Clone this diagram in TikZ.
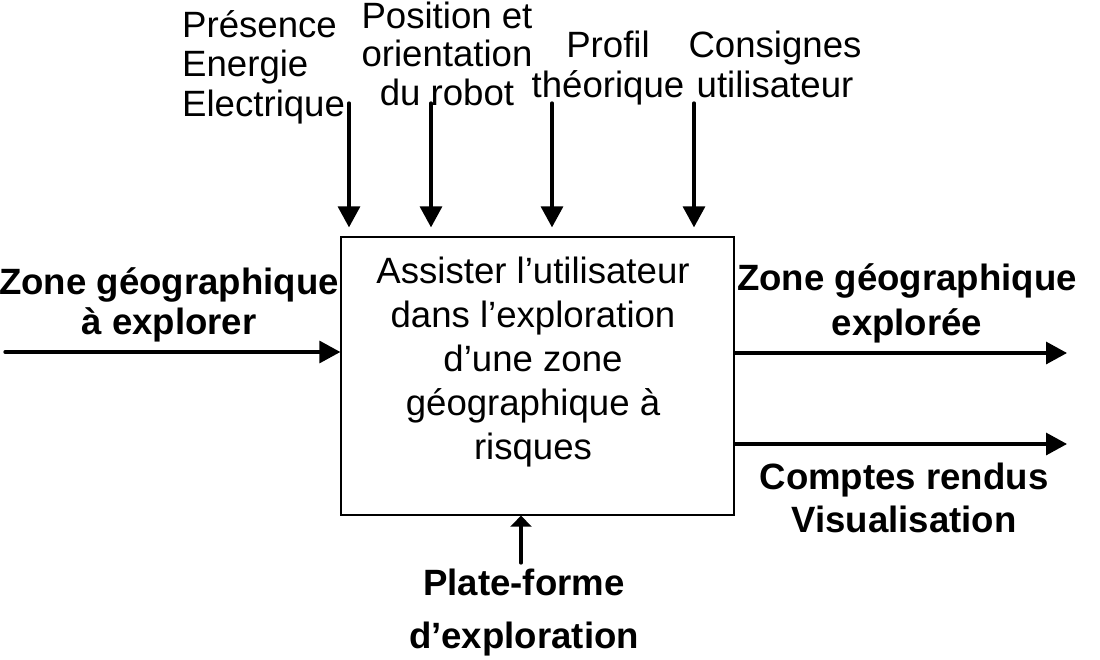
\documentclass[tikz,border=0pt]{standalone}
\usepackage{fontspec}
\setmainfont{Liberation Sans}
\usetikzlibrary{arrows.meta}
\newcommand{\txtblock}[3]{\fontsize{36.6}{#2}\selectfont\begin{tabular}[t]{@{}#1@{}}#3\end{tabular}}
\begin{document}
\begin{tikzpicture}[x=1pt,y=-1pt,
  lbl/.style={inner sep=0pt, anchor=base},
  flow/.style={line width=3.3pt, line cap=round, -{Triangle[width=22pt,length=21pt]}},
  flowsmall/.style={line width=3.3pt, line cap=round, -{Triangle[width=21pt,length=11pt]}},
  fnbox/.style={draw, line width=1.3pt, minimum width=393pt, minimum height=278pt, inner sep=0pt}]
\useasboundingbox (0,0) rectangle (1100,659);
% function box
\node[fnbox] (fn) at (537.5,376) {};
\node[lbl] (fntext) at (533,283) {\txtblock{c}{44pt}{Assister l’utilisateur\\dans l’exploration\\d’une zone\\géographique à\\risques}};
% top labels
\node[lbl, anchor=base west] (lbla) at (182,37) {\txtblock{l}{39.5pt}{Présence\\Energie\\Electrique}};
\node[lbl] (lblb) at (447,28) {\txtblock{c}{38.5pt}{Position et\\orientation\\du robot}};
\node[lbl] (lblc) at (608,57) {\txtblock{c}{40pt}{Profil\\théorique}};
\node[lbl] (lbld) at (775,57) {\txtblock{c}{40pt}{Consignes\\utilisateur}};
% side / bottom labels
\node[lbl] (inlbl) at (169,294) {\bfseries\txtblock{c}{40pt}{Zone géographique\\à explorer}};
\node[lbl] (outa) at (907,290) {\bfseries\txtblock{c}{45pt}{Zone géographique\\explorée}};
\node[lbl] (outb) at (904,489) {\bfseries\txtblock{c}{43pt}{Comptes rendus\\Visualisation}};
\node[lbl] (ctl) at (524,595) {\bfseries\txtblock{c}{53pt}{Plate-forme\\d’exploration}};
% arrow anchors
\coordinate (s1) at (349,103);
\coordinate (s2) at (431,103);
\coordinate (s3) at (552,103);
\coordinate (s4) at (694,103);
\coordinate (lin) at (5,352);
\coordinate (o1) at (1067,353);
\coordinate (o2) at (1067,444);
\coordinate (c1) at (521,563);
% controls
\draw[flow, shorten >=9pt] (s1) -- (s1 |- fn.north);
\draw[flow, shorten >=9pt] (s2) -- (s2 |- fn.north);
\draw[flow, shorten >=9pt] (s3) -- (s3 |- fn.north);
\draw[flow, shorten >=9pt] (s4) -- (s4 |- fn.north);
% input / outputs
\draw[flow] (lin) -- (lin -| fn.west);
\draw[flow] (o1 -| fn.east) -- (o1);
\draw[flow] (o2 -| fn.east) -- (o2);
% mechanism
\draw[flowsmall] (c1) -- (c1 |- fn.south);
\end{tikzpicture}
\end{document}
